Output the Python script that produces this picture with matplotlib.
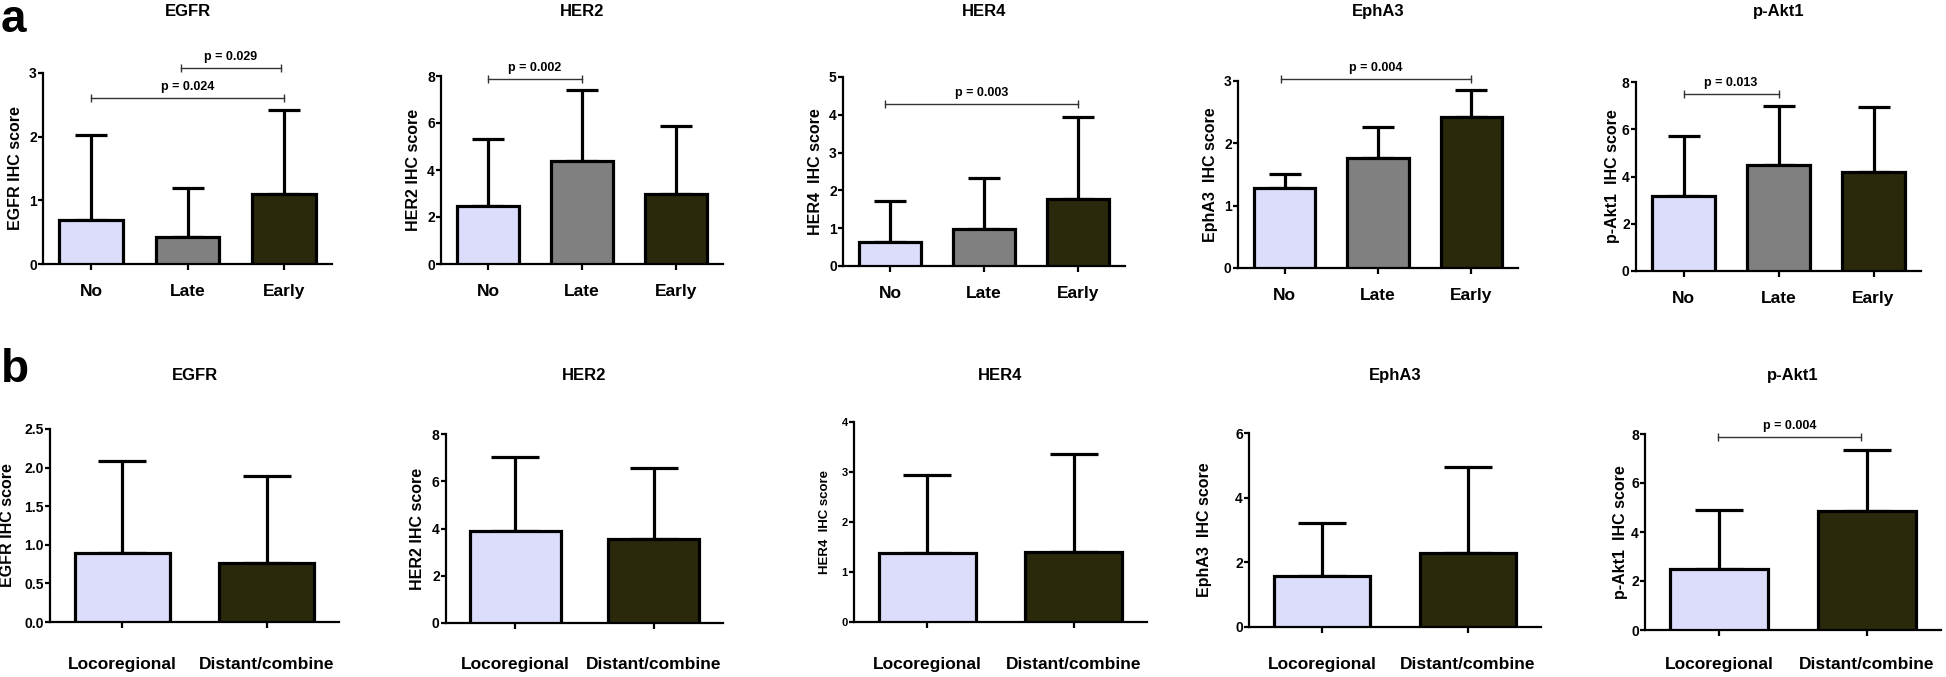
import numpy as np
import matplotlib
matplotlib.use('Agg')
import matplotlib.pyplot as plt
from matplotlib.ticker import FormatStrFormatter

plt.rcParams['font.family'] = ['Liberation Sans', 'DejaVu Sans']
plt.rcParams['font.weight'] = 'bold'

# ---------------- data ----------------
markers = ['EGFR', 'HER2', 'HER4', 'EphA3', 'p-Akt1']
ylabels = ['EGFR IHC score', 'HER2 IHC score', 'HER4  IHC score',
           'EphA3  IHC score', 'p-Akt1  IHC score']

cats_a = ['No', 'Late', 'Early']
means_a = {
    'EGFR':   [0.69, 0.42, 1.10],
    'HER2':   [2.48, 4.37, 2.99],
    'HER4':   [0.64, 0.97, 1.78],
    'EphA3':  [1.29, 1.76, 2.42],
    'p-Akt1': [3.18, 4.47, 4.18],
}
upper_a = {  # mean + SD (top of error bar)
    'EGFR':   [2.03, 1.20, 2.42],
    'HER2':   [5.33, 7.42, 5.89],
    'HER4':   [1.72, 2.34, 3.93],
    'EphA3':  [1.50, 2.26, 2.86],
    'p-Akt1': [5.72, 6.97, 6.93],
}
yticks_a = {
    'EGFR': [0, 1, 2, 3], 'HER2': [0, 2, 4, 6, 8], 'HER4': [0, 1, 2, 3, 4, 5],
    'EphA3': [0, 1, 2, 3], 'p-Akt1': [0, 2, 4, 6, 8],
}
# (x_start, x_end, y, label)
brackets_a = {
    'EGFR':   [(0.0, 2.0, 2.61, 'p = 0.024'), (0.93, 1.97, 3.08, 'p = 0.029')],
    'HER2':   [(0.0, 1.0, 7.89, 'p = 0.002')],
    'HER4':   [(-0.05, 2.0, 4.28, 'p = 0.003')],
    'EphA3':  [(-0.04, 2.0, 3.04, 'p = 0.004')],
    'p-Akt1': [(0.0, 1.0, 7.49, 'p = 0.013')],
}

cats_b = ['Locoregional', 'Distant/combine']
means_b = {
    'EGFR':   [0.89, 0.76],
    'HER2':   [3.89, 3.55],
    'HER4':   [1.39, 1.41],
    'EphA3':  [1.57, 2.28],
    'p-Akt1': [2.51, 4.85],
}
upper_b = {
    'EGFR':   [2.08, 1.89],
    'HER2':   [7.04, 6.57],
    'HER4':   [2.94, 3.36],
    'EphA3':  [3.23, 4.96],
    'p-Akt1': [4.88, 7.36],
}
yticks_b = {
    'EGFR': [0.0, 0.5, 1.0, 1.5, 2.0, 2.5], 'HER2': [0, 2, 4, 6, 8],
    'HER4': [0, 1, 2, 3, 4], 'EphA3': [0, 2, 4, 6], 'p-Akt1': [0, 2, 4, 6, 8],
}
brackets_b = {
    'p-Akt1': [(-0.01, 0.96, 7.88, 'p = 0.004')],
}

# ---------------- styling ----------------
C_LIGHT, C_GRAY, C_DARK = '#DCDDFA', '#808080', '#2A290C'
colors_a = [C_LIGHT, C_GRAY, C_DARK]
colors_b = [C_LIGHT, C_DARK]

W, H = 1946, 677
# axes boxes in pixels: left, right, top, bottom
boxes_a = [(43, 332, 73, 264), (441, 723, 76, 264), (843, 1125, 77, 266),
           (1238, 1518, 81, 268), (1636, 1921, 82, 271)]
boxes_b = [(50, 339, 429, 622), (446, 723, 434, 623), (854, 1147, 422, 622),
           (1249, 1541, 433, 627), (1645, 1941, 434, 630)]
ylabel_x_a = [16, 413, 815, 1210, 1612]
ylabel_x_b = [8, 418, 825, 1205, 1620]
XLAB_TOP_B = 657  # pixel row where the bottom-row category labels start

fig = plt.figure(figsize=(W / 100, H / 100), dpi=100)


def add_ax(box):
    l, r, t, b = box
    return fig.add_axes([l / W, 1 - b / H, (r - l) / W, (b - t) / H])


def draw(ax, box, cats, means, uppers, colors, yticks, ylabel, ylx, capsize,
         xpad, tick_fs=10, lab_fs=11.5, brackets=(), fmt=None):
    n = len(cats)
    x = np.arange(n)
    means = np.array(means)
    uppers = np.array(uppers)
    ax.errorbar(x, means, yerr=[np.zeros(n), uppers - means], fmt='none',
                ecolor='black', elinewidth=2.3, capsize=capsize, capthick=2.3,
                zorder=2)
    ax.bar(x, means, width=0.66, color=colors, edgecolor='black',
           linewidth=2.3, zorder=3)
    ax.set_xlim(-0.5, n - 0.5)
    ax.set_ylim(0, yticks[-1])
    ax.set_yticks(yticks)
    if fmt:
        ax.yaxis.set_major_formatter(FormatStrFormatter(fmt))
    ax.set_xticks(x)
    ax.set_xticklabels(cats, fontsize=12.5, fontweight='bold')
    for s in ('top', 'right'):
        ax.spines[s].set_visible(False)
    for s in ('left', 'bottom'):
        ax.spines[s].set_linewidth(1.6)
    ax.tick_params(axis='y', length=3.5, width=1.6, pad=1, labelsize=tick_fs)
    ax.tick_params(axis='x', length=4, width=1.6, pad=xpad)
    for lab in ax.get_yticklabels():
        lab.set_fontweight('bold')
    ax.set_ylabel(ylabel, fontsize=lab_fs, fontweight='bold')
    l, r, t, b = box
    ax.yaxis.set_label_coords((ylx - l) / (r - l), 0.5)
    ax.yaxis.label.set_va('center')
    for x0, x1, y, txt in brackets:
        ax.plot([x0, x1], [y, y], color='#333333', lw=1.0, marker='|', ms=6,
                mew=1.0, clip_on=False, zorder=4)
        ax.annotate(txt, xy=((x0 + x1) / 2, y), xytext=(0, 3.5),
                    textcoords='offset points', ha='center', va='bottom',
                    fontsize=9, fontweight='bold', annotation_clip=False)


for i, m in enumerate(markers):
    ax = add_ax(boxes_a[i])
    draw(ax, boxes_a[i], cats_a, means_a[m], upper_a[m], colors_a, yticks_a[m],
         ylabels[i], ylabel_x_a[i], capsize=11.5, xpad=10.5,
         brackets=brackets_a.get(m, ()))
    l, r, t, b = boxes_a[i]
    fig.text((l + r) / 2 / W, 1 - 16 / H, m, ha='center', va='baseline',
             fontsize=12, fontweight='bold')

for i, m in enumerate(markers):
    ax = add_ax(boxes_b[i])
    small = (m == 'HER4')
    l, r, t, b = boxes_b[i]
    pad_pt = (XLAB_TOP_B - b - 5.5) * 0.72
    draw(ax, boxes_b[i], cats_b, means_b[m], upper_b[m], colors_b, yticks_b[m],
         ylabels[i], ylabel_x_b[i], capsize=17, xpad=pad_pt,
         tick_fs=8 if small else 10, lab_fs=9.5 if small else 11.5,
         brackets=brackets_b.get(m, ()), fmt='%.1f' if m == 'EGFR' else None)
    fig.text((l + r) / 2 / W, 1 - 380 / H, m, ha='center', va='baseline',
             fontsize=12, fontweight='bold')

fig.text(1 / W, 1 - 32 / H, 'a', fontsize=33, fontweight='bold', va='baseline')
fig.text(1 / W, 1 - 382 / H, 'b', fontsize=33, fontweight='bold', va='baseline')

fig.savefig('out.png', dpi=100)
